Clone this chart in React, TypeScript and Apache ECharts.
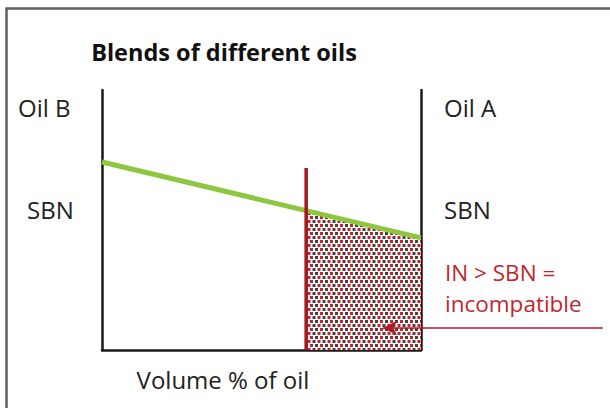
import React, { useEffect, useRef } from "react";
import * as echarts from "echarts";

// Data. x: volume % of oil A (0 = pure Oil B, 100 = pure Oil A), y: relative scale 0–100
const blendLine: [number, number][] = [
  [0, 72.3],
  [100, 43.1],
];
const incompatibleArea: [number, number][] = [
  [64, 53.5],
  [100, 43.1],
];
const blendPoint: [number, number][] = [
  [64, 0],
  [64, 70],
];

const titleText = "Blends of different oils";
const leftLabels = ["Oil B", "SBN"];
const rightLabels = ["Oil A", "SBN"];
const noteLines = ["IN > SBN =", "incompatible"];
const xName = "Volume % of oil";

const FONT = "'Open Sans', 'Noto Sans', sans-serif";

function makePattern(): HTMLCanvasElement {
  const c = document.createElement("canvas");
  c.width = 10;
  c.height = 8;
  const ctx = c.getContext("2d")!;
  ctx.fillStyle = "#ffffff";
  ctx.fillRect(0, 0, 10, 8);
  const s = 3;
  const dot = (x: number, y: number, col: string) => {
    ctx.fillStyle = col;
    ctx.fillRect(x, y, s, s);
  };
  dot(0, 0, "#d21e27");
  dot(5, 0, "#4a3f40");
  dot(2.5, 4, "#4a3f40");
  dot(7.5, 4, "#d21e27");
  dot(-2.5, 4, "#d21e27");
  return c;
}

export default function App() {
  const ref = useRef<HTMLDivElement>(null);
  useEffect(() => {
    if (!ref.current) return;
    const chart = echarts.init(ref.current, null, { renderer: "svg" });
    const pattern = makePattern();
    const axisLine = { show: true, onZero: false, lineStyle: { color: "#1a1a1a", width: 2.5 } };
    const textStyle = (x: number, y: number, text: string, extra: any = {}) => ({
      type: "text",
      x,
      y,
      silent: true,
      style: {
        text,
        fill: "#222",
        font: `24px ${FONT}`,
        verticalAlign: "middle",
        align: "left",
        ...extra,
      },
    });
    chart.setOption({
      animation: false,
      backgroundColor: "#ffffff",
      grid: { left: 102, right: 189, top: 90, bottom: 58 },
      xAxis: {
        type: "value",
        min: 0,
        max: 100,
        axisLine,
        axisTick: { show: false },
        axisLabel: { show: false },
        splitLine: { show: false },
      },
      yAxis: [
        {
          type: "value",
          min: 0,
          max: 100,
          position: "left",
          axisLine,
          axisTick: { show: false },
          axisLabel: { show: false },
          splitLine: { show: false },
        },
        {
          type: "value",
          min: 0,
          max: 100,
          position: "right",
          axisLine,
          axisTick: { show: false },
          axisLabel: { show: false },
          splitLine: { show: false },
        },
      ],
      series: [
        {
          type: "line",
          name: "incompatible",
          data: incompatibleArea,
          symbol: "none",
          lineStyle: { width: 0 },
          areaStyle: {
            origin: "start",
            opacity: 1,
            color: { image: pattern, repeat: "repeat", imageWidth: 10, imageHeight: 8 } as any,
          },
          z: 1,
          silent: true,
        },
        {
          type: "line",
          name: "SBN",
          data: blendLine,
          symbol: "none",
          lineStyle: { color: "#8dc63f", width: 5 },
          z: 2,
          silent: true,
        },
        {
          type: "line",
          name: "blend",
          data: blendPoint,
          symbol: "none",
          clip: false,
          lineStyle: { color: "#a3171d", width: 3.5 },
          z: 3,
          silent: true,
          markLine: {
            silent: true,
            symbol: ["none", "arrow"],
            symbolSize: [11, 14],
            label: { show: false },
            lineStyle: { color: "#b01c22", width: 1.5, type: "solid" },
            data: [[{ x: 603, y: 328 }, { x: 383, y: 328 }]] as any,
          },
        },
      ],
      graphic: [
        {
          type: "rect",
          silent: true,
          shape: { x: 6.5, y: 8.5, width: 700, height: 500 },
          style: { fill: "none", stroke: "#5f5f5f", lineWidth: 2.5 },
        },
        textStyle(224, 52, titleText, { font: `bold 23.5px ${FONT}`, align: "center", fill: "#111" }),
        textStyle(18, 107, leftLabels[0]),
        textStyle(27, 209, leftLabels[1]),
        textStyle(444, 107, rightLabels[0]),
        textStyle(444, 209, rightLabels[1]),
        textStyle(445, 288, noteLines.join("\n"), {
          fill: "#c1272d",
          font: `22.5px ${FONT}`,
          lineHeight: 31,
        }),
        textStyle(223, 379, xName, { align: "center" }),
      ],
    });
    return () => chart.dispose();
  }, []);
  return (
    <div
      ref={ref}
      style={{ position: "fixed", left: 0, top: 0, width: 610, height: 408 }}
    />
  );
}
